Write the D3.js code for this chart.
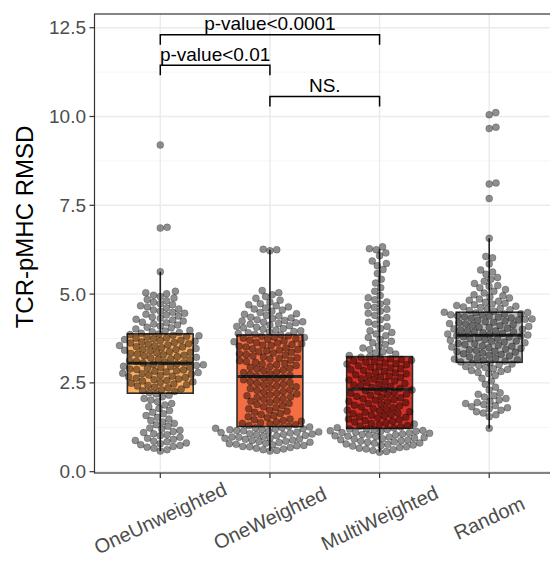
<!DOCTYPE html>
<html>
<head>
<meta charset="utf-8">
<script src="https://cdn.jsdelivr.net/npm/d3@7"></script>
<style>
  html, body { margin: 0; padding: 0; background: #fff; }
  svg { display: block; }
  text { font-family: "Liberation Sans", Arial, Helvetica, sans-serif; }
</style>
</head>
<body>
<svg id="chart" width="550" height="561"></svg>
<script>
// ---- data -------------------------------------------------------------
const categories = ["OneUnweighted", "OneWeighted", "MultiWeighted", "Random"];
const boxColors = ["#FDAE61", "#F46D43", "#D73027", "#BDBDBD"];

// per-structure RMSD values for each protocol
const oneUnweighted = [
  0.58, 0.62, 0.66, 0.69, 0.71, 0.74,
  0.76, 0.79, 0.81, 0.84, 0.86, 0.88, 0.91, 0.94, 0.97,
  1.01, 1.04, 1.07, 1.10, 1.13, 1.17, 1.20, 1.23,
  1.28, 1.32, 1.36, 1.40, 1.44, 1.48,
  1.53, 1.58, 1.63, 1.67, 1.72,
  1.78, 1.83, 1.88, 1.92, 1.97,
  2.02, 2.06, 2.11, 2.15, 2.19, 2.23,
  2.26, 2.28, 2.31, 2.33, 2.36, 2.38, 2.41, 2.43, 2.45, 2.47, 2.49,
  2.51, 2.53, 2.55, 2.57, 2.59, 2.61, 2.63, 2.65, 2.67, 2.69, 2.71, 2.72, 2.74,
  2.76, 2.77, 2.79, 2.81, 2.83, 2.84, 2.86, 2.88, 2.89, 2.91, 2.93, 2.94, 2.96, 2.97, 2.99,
  3.01, 3.02, 3.04, 3.06, 3.07, 3.09, 3.11, 3.13, 3.15, 3.16, 3.18, 3.20, 3.22, 3.24,
  3.26, 3.28, 3.29, 3.31, 3.33, 3.35, 3.36, 3.38, 3.40, 3.42, 3.44, 3.45, 3.47, 3.49,
  3.51, 3.52, 3.54, 3.55, 3.57, 3.59, 3.60, 3.62, 3.64, 3.65, 3.67, 3.69, 3.70, 3.72, 3.74,
  3.76, 3.77, 3.79, 3.81, 3.83, 3.84, 3.86, 3.88, 3.90, 3.92, 3.94, 3.96, 3.98,
  4.02, 4.05, 4.07, 4.10, 4.13, 4.16, 4.19, 4.21, 4.24,
  4.27, 4.29, 4.32, 4.35, 4.38, 4.41, 4.43, 4.46, 4.49,
  4.52, 4.55, 4.58, 4.61, 4.64, 4.67, 4.70, 4.73,
  4.77, 4.81, 4.85, 4.89, 4.93, 4.97,
  5.01, 5.04, 5.08,
  5.63, 6.86, 6.88, 9.20
];
const oneWeighted = [
  0.58, 0.60, 0.62, 0.64, 0.66, 0.68, 0.70, 0.71, 0.73, 0.74,
  0.76, 0.77, 0.79, 0.80, 0.82, 0.83, 0.85, 0.86, 0.88, 0.89, 0.91, 0.92, 0.94, 0.95, 0.97, 0.98,
  1.00, 1.01, 1.02, 1.04, 1.05, 1.06, 1.07, 1.09, 1.10, 1.11, 1.12, 1.14, 1.15, 1.16, 1.18, 1.19, 1.20, 1.21, 1.22, 1.23, 1.24,
  1.26, 1.28, 1.30, 1.32, 1.34, 1.36, 1.38, 1.40, 1.42, 1.44, 1.46, 1.48,
  1.52, 1.55, 1.58, 1.61, 1.64, 1.67, 1.70, 1.73,
  1.77, 1.80, 1.83, 1.86, 1.89, 1.92, 1.95, 1.98,
  2.01, 2.04, 2.06, 2.09, 2.11, 2.14, 2.16, 2.19, 2.21, 2.24,
  2.26, 2.29, 2.31, 2.34, 2.36, 2.39, 2.41, 2.44, 2.46, 2.49,
  2.51, 2.54, 2.56, 2.59, 2.61, 2.64, 2.66, 2.69, 2.71, 2.74,
  2.76, 2.79, 2.81, 2.84, 2.86, 2.89, 2.91, 2.94, 2.96, 2.99,
  3.01, 3.03, 3.05, 3.08, 3.10, 3.12, 3.14, 3.17, 3.19, 3.21, 3.23,
  3.26, 3.28, 3.30, 3.32, 3.34, 3.36, 3.38, 3.40, 3.42, 3.44, 3.46, 3.48,
  3.51, 3.53, 3.55, 3.56, 3.58, 3.60, 3.62, 3.64, 3.66, 3.68, 3.70, 3.72, 3.74,
  3.76, 3.78, 3.79, 3.81, 3.83, 3.85, 3.87, 3.89, 3.91, 3.93, 3.95, 3.97, 3.99,
  4.01, 4.03, 4.05, 4.07, 4.09, 4.11, 4.13, 4.15, 4.17, 4.19, 4.21, 4.22, 4.24,
  4.26, 4.28, 4.31, 4.33, 4.35, 4.38, 4.40, 4.43, 4.45, 4.48,
  4.52, 4.55, 4.58, 4.61, 4.64, 4.67, 4.70, 4.73,
  4.78, 4.83, 4.88, 4.93, 4.98,
  5.04, 5.10,
  6.22, 6.25, 6.26
];
const multiWeighted = [
  0.55, 0.57, 0.60, 0.62, 0.64, 0.66, 0.68, 0.70, 0.72, 0.74,
  0.75, 0.77, 0.78, 0.80, 0.81, 0.83, 0.84, 0.86, 0.87, 0.89, 0.90, 0.92, 0.93, 0.95, 0.96, 0.98, 0.99,
  1.00, 1.01, 1.03, 1.04, 1.05, 1.06, 1.08, 1.09, 1.10, 1.11, 1.13, 1.14, 1.15, 1.16, 1.18, 1.19, 1.20, 1.21, 1.23, 1.24,
  1.26, 1.28, 1.30, 1.32, 1.34, 1.36, 1.38, 1.40, 1.42, 1.44, 1.46, 1.48,
  1.51, 1.53, 1.55, 1.57, 1.59, 1.61, 1.63, 1.65, 1.67, 1.69, 1.71, 1.73,
  1.76, 1.78, 1.80, 1.83, 1.85, 1.87, 1.90, 1.92, 1.94, 1.96, 1.98,
  2.01, 2.03, 2.05, 2.08, 2.10, 2.12, 2.15, 2.17, 2.19, 2.21, 2.23,
  2.26, 2.28, 2.30, 2.33, 2.35, 2.37, 2.40, 2.42, 2.44, 2.46, 2.48,
  2.51, 2.53, 2.55, 2.58, 2.60, 2.62, 2.65, 2.67, 2.69, 2.71, 2.73,
  2.76, 2.78, 2.80, 2.83, 2.85, 2.87, 2.90, 2.92, 2.94, 2.96, 2.98,
  3.01, 3.03, 3.04, 3.06, 3.08, 3.10, 3.12, 3.14, 3.16, 3.18, 3.20, 3.22, 3.24,
  3.27, 3.31, 3.34, 3.38, 3.41, 3.44, 3.48,
  3.53, 3.58, 3.63, 3.67, 3.72,
  3.78, 3.83, 3.88, 3.92, 3.97,
  4.03, 4.09, 4.15, 4.21,
  4.28, 4.34, 4.40, 4.46,
  4.52, 4.57, 4.62, 4.67, 4.72,
  4.78, 4.84, 4.90, 4.96,
  5.08, 5.18,
  5.31, 5.42,
  5.58, 5.69,
  5.80, 5.86, 5.93,
  6.08, 6.16,
  6.25, 6.28, 6.33
];
const random = [
  1.22,
  1.55, 1.60, 1.65, 1.69, 1.73,
  1.77, 1.80, 1.83, 1.86, 1.89, 1.92, 1.95, 1.98,
  2.02, 2.06, 2.10, 2.14, 2.18, 2.22,
  2.30, 2.38, 2.46,
  2.55, 2.63, 2.71,
  2.76, 2.79, 2.82, 2.85, 2.88, 2.90, 2.93, 2.96, 2.99,
  3.01, 3.03, 3.05, 3.07, 3.09, 3.11, 3.13, 3.15, 3.17, 3.19, 3.21, 3.23,
  3.26, 3.28, 3.30, 3.32, 3.34, 3.36, 3.38, 3.39, 3.41, 3.43, 3.45, 3.47, 3.49,
  3.51, 3.53, 3.54, 3.56, 3.58, 3.60, 3.61, 3.63, 3.65, 3.67, 3.68, 3.70, 3.72, 3.74,
  3.76, 3.77, 3.79, 3.80, 3.82, 3.83, 3.85, 3.86, 3.88, 3.90, 3.91, 3.93, 3.94, 3.96, 3.97, 3.99,
  4.01, 4.02, 4.04, 4.06, 4.07, 4.09, 4.11, 4.12, 4.14, 4.16, 4.17, 4.19, 4.21, 4.22, 4.24,
  4.26, 4.27, 4.29, 4.30, 4.32, 4.33, 4.35, 4.36, 4.38, 4.39, 4.41, 4.42, 4.44, 4.45, 4.47, 4.48, 4.49,
  4.52, 4.54, 4.56, 4.58, 4.60, 4.62, 4.64, 4.66, 4.68, 4.70, 4.72, 4.74,
  4.77, 4.80, 4.83, 4.86, 4.89, 4.92, 4.95, 4.98,
  5.03, 5.08, 5.13, 5.18, 5.22, 5.24,
  5.30, 5.36, 5.42, 5.47,
  5.56, 5.62, 5.68,
  5.85,
  6.02, 6.06,
  6.57,
  7.69, 8.10, 8.13, 9.66, 9.70, 10.05, 10.11
];
const groupValues = [oneUnweighted, oneWeighted, multiWeighted, random];

// box summaries: lower whisker, Q1, median, Q3, upper whisker
const whiskerLow = [0.58, 0.58, 0.55, 1.22];
const q1 = [2.21, 1.27, 1.22, 3.08];
const medians = [3.05, 2.68, 2.32, 3.84];
const q3 = [3.88, 3.85, 3.24, 4.49];
const whiskerHigh = [5.63, 6.25, 6.27, 6.57];

// pairwise comparison brackets
const bracketFrom = ["OneUnweighted", "OneUnweighted", "OneWeighted"];
const bracketTo = ["MultiWeighted", "OneWeighted", "MultiWeighted"];
const bracketHeight = [12.30, 11.44, 10.56];
const bracketLabels = ["p-value<0.0001", "p-value<0.01", "NS."];
const bracketTip = 0.28;

const yTicks = [0, 2.5, 5, 7.5, 10, 12.5];
const yMinorTicks = [1.25, 3.75, 6.25, 8.75, 11.25];
const yTitle = "TCR-pMHC RMSD";

// ---- layout -----------------------------------------------------------
const panel = { left: 94.5, right: 555, top: 14, bottom: 473 };
const svg = d3.select("#chart");

const x = d3.scalePoint().domain(categories).range([panel.left, panel.right]).padding(0.6);
const y = d3.scaleLinear().domain([-0.037, 12.886]).range([panel.bottom, panel.top]);
const step = x.step();
const boxW = step * 0.6;

// grid
const grid = svg.append("g");
grid.selectAll("line.minor").data(yMinorTicks).join("line")
  .attr("x1", panel.left).attr("x2", panel.right)
  .attr("y1", d => y(d)).attr("y2", d => y(d))
  .attr("stroke", "#F2F2F2").attr("stroke-width", 0.8);
grid.selectAll("line.majory").data(yTicks).join("line")
  .attr("x1", panel.left).attr("x2", panel.right)
  .attr("y1", d => y(d)).attr("y2", d => y(d))
  .attr("stroke", "#EBEBEB").attr("stroke-width", 1.4);
grid.selectAll("line.majorx").data(categories).join("line")
  .attr("x1", d => x(d)).attr("x2", d => x(d))
  .attr("y1", panel.top).attr("y2", panel.bottom)
  .attr("stroke", "#EBEBEB").attr("stroke-width", 1.4);

// boxplots
const boxes = svg.append("g").selectAll("g").data(categories).join("g");
boxes.append("line")
  .attr("x1", d => x(d)).attr("x2", d => x(d))
  .attr("y1", (d, i) => y(whiskerHigh[i])).attr("y2", (d, i) => y(q3[i]))
  .attr("stroke", "#222").attr("stroke-width", 1.6);
boxes.append("line")
  .attr("x1", d => x(d)).attr("x2", d => x(d))
  .attr("y1", (d, i) => y(q1[i])).attr("y2", (d, i) => y(whiskerLow[i]))
  .attr("stroke", "#222").attr("stroke-width", 1.6);
boxes.append("rect")
  .attr("x", d => x(d) - boxW / 2).attr("width", boxW)
  .attr("y", (d, i) => y(q3[i])).attr("height", (d, i) => y(q1[i]) - y(q3[i]))
  .attr("fill", (d, i) => boxColors[i])
  .attr("stroke", "#2b2b2b").attr("stroke-width", 1.6);
boxes.append("line")
  .attr("x1", d => x(d) - boxW / 2).attr("x2", d => x(d) + boxW / 2)
  .attr("y1", (d, i) => y(medians[i])).attr("y2", (d, i) => y(medians[i]))
  .attr("stroke", "#2b2b2b").attr("stroke-width", 3);

// beeswarm placement: each point goes to the free offset closest to the centre
const dotR = 3.5, spacing = 6.9;
function swarm(values, cx) {
  const pts = values.map(v => ({ v, y: y(v) })).sort((a, b) => b.y - a.y);
  const placed = [];
  for (const p of pts) {
    const near = placed.filter(q => Math.abs(q.y - p.y) < spacing);
    const cands = [0];
    for (const q of near) {
      const dx = Math.sqrt(spacing * spacing - (q.y - p.y) ** 2);
      cands.push(q.dx + dx, q.dx - dx);
    }
    cands.sort((a, b) => Math.abs(a) - Math.abs(b));
    p.dx = 0;
    for (const c of cands) {
      if (near.every(q => (q.dx - c) ** 2 + (q.y - p.y) ** 2 >= spacing * spacing - 1e-6)) { p.dx = c; break; }
    }
    placed.push(p);
  }
  return placed.map(p => ({ x: cx + p.dx, y: p.y }));
}

const dots = svg.append("g");
categories.forEach((c, i) => {
  dots.append("g").selectAll("circle").data(swarm(groupValues[i], x(c))).join("circle")
    .attr("cx", d => d.x).attr("cy", d => d.y).attr("r", dotR)
    .attr("fill", "#000").attr("fill-opacity", 0.44)
    .attr("stroke", "#000").attr("stroke-opacity", 0.3).attr("stroke-width", 0.7);
});

// panel border
svg.append("rect")
  .attr("x", panel.left).attr("y", panel.top)
  .attr("width", panel.right - panel.left).attr("height", panel.bottom - panel.top)
  .attr("fill", "none").attr("stroke", "#333").attr("stroke-width", 1.2);

// axes
const yAxis = svg.append("g");
yAxis.selectAll("line").data(yTicks).join("line")
  .attr("x1", panel.left - 5).attr("x2", panel.left)
  .attr("y1", d => y(d)).attr("y2", d => y(d))
  .attr("stroke", "#333").attr("stroke-width", 1.2);
yAxis.selectAll("text").data(yTicks).join("text")
  .attr("x", panel.left - 8.5).attr("y", d => y(d))
  .attr("text-anchor", "end").attr("dominant-baseline", "central")
  .attr("font-size", 19).attr("fill", "#4D4D4D")
  .text(d => d3.format(".1f")(d));

const xAxis = svg.append("g");
xAxis.selectAll("line").data(categories).join("line")
  .attr("x1", d => x(d)).attr("x2", d => x(d))
  .attr("y1", panel.bottom).attr("y2", panel.bottom + 5)
  .attr("stroke", "#333").attr("stroke-width", 1.2);
xAxis.selectAll("text").data(categories).join("text")
  .attr("transform", d => `translate(${x(d)},518) rotate(-25)`)
  .attr("text-anchor", "middle").attr("dominant-baseline", "central")
  .attr("font-size", 20).attr("fill", "#4D4D4D")
  .text(d => d);

svg.append("text")
  .attr("transform", "translate(33.3,227) rotate(-90)")
  .attr("text-anchor", "middle")
  .attr("font-size", 24).attr("fill", "#000")
  .text(yTitle);

// significance brackets
const br = svg.append("g").selectAll("g").data(bracketLabels).join("g");
br.append("path")
  .attr("d", (d, i) => {
    const x0 = x(bracketFrom[i]), x1 = x(bracketTo[i]);
    const yt = y(bracketHeight[i]), yb = y(bracketHeight[i] - bracketTip);
    return `M${x0},${yb}V${yt}H${x1}V${yb}`;
  })
  .attr("fill", "none").attr("stroke", "#000").attr("stroke-width", 1.5);
br.append("text")
  .attr("x", (d, i) => (x(bracketFrom[i]) + x(bracketTo[i])) / 2)
  .attr("y", (d, i) => y(bracketHeight[i]) - 4.5)
  .attr("text-anchor", "middle")
  .attr("font-size", 19).attr("fill", "#000")
  .text(d => d);
</script>
</body>
</html>
